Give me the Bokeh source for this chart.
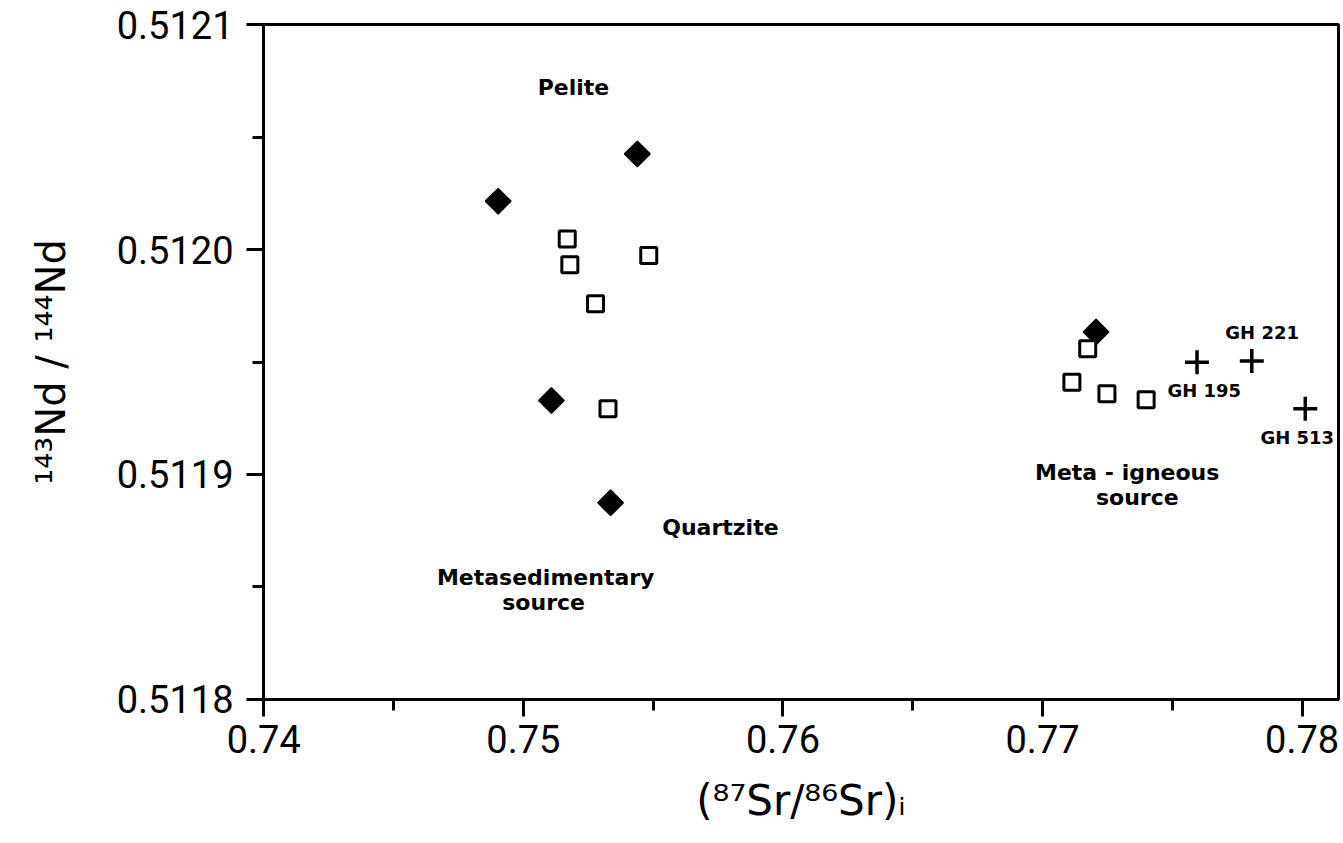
import numpy as np
from bokeh.plotting import figure
from bokeh.models import SingleIntervalTicker, PrintfTickFormatter, Range1d
from bokeh.embed import file_html
from bokeh.resources import INLINE
from bokeh.core.properties import value

# Filled diamonds (pelite / quartzite samples and one meta-igneous)
filled_x = [0.75439, 0.74903, 0.75108, 0.75336, 0.77206]
filled_y = [0.5120425, 0.5120215, 0.5119329, 0.5118874, 0.5119633]

# Open squares
open_x = [0.75169, 0.75179, 0.75483, 0.75278, 0.75326, 0.77174, 0.77113, 0.77248, 0.77399]
open_y = [0.5120047, 0.5119932, 0.5119973, 0.5119759, 0.5119292, 0.5119559, 0.5119410, 0.5119359, 0.5119332]

# Crosses (GH samples)
cross_x = [0.77595, 0.77806, 0.78012]
cross_y = [0.5119499, 0.5119504, 0.5119292]

# Annotation labels
big_labels = ["Pelite", "Quartzite", "Metasedimentary", "source", "Meta - igneous", "source"]
big_label_x = [0.75193, 0.75759, 0.75086, 0.75078, 0.77326, 0.77365]
big_label_y = [0.5120720, 0.5118764, 0.5118542, 0.5118431, 0.5119009, 0.5118898]

gh_labels = ["GH 221", "GH 195", "GH 513"]
gh_label_x = [0.77846, 0.77623, 0.77981]
gh_label_y = [0.5119631, 0.5119373, 0.5119164]

p = figure(width=1341, height=839, output_backend="svg", toolbar_location=None,
           x_range=Range1d(0.73999, 0.7814), y_range=Range1d(0.51179999, 0.51210001),
           min_border_left=263, min_border_right=3, min_border_top=24, min_border_bottom=140)

p.xgrid.visible = False
p.ygrid.visible = False
p.outline_line_color = "black"
p.outline_line_width = 3
p.outline_line_alpha = 1.0

p.xaxis.ticker = SingleIntervalTicker(interval=0.01, num_minor_ticks=2)
p.yaxis.ticker = SingleIntervalTicker(interval=0.0001, num_minor_ticks=2)
p.xaxis.formatter = PrintfTickFormatter(format="%.2f")
p.yaxis.formatter = PrintfTickFormatter(format="%.4f")

for ax in (p.xaxis[0], p.yaxis[0]):
    ax.axis_line_color = "black"
    ax.axis_line_width = 3
    ax.major_tick_line_width = 3
    ax.minor_tick_line_width = 3
    ax.major_tick_line_color = "black"
    ax.minor_tick_line_color = "black"
    ax.major_tick_in = 0
    ax.minor_tick_in = 0
    ax.major_tick_out = 17
    ax.minor_tick_out = 11
    ax.major_label_text_font = "Roboto"
    ax.major_label_text_font_size = "38px"
    ax.major_label_text_color = "black"
    ax.axis_label_text_font = "DejaVu Sans"
    ax.axis_label_text_font_size = "40px"
    ax.axis_label_text_font_style = "normal"
    ax.axis_label_text_color = "black"

p.xaxis.major_label_standoff = 8
p.yaxis.major_label_standoff = 13
p.xaxis.axis_label = "(\u2078\u2077Sr/\u2078\u2076Sr)\u1d62"
p.yaxis.axis_label = "\u00b9\u2074\u00b3Nd / \u00b9\u2074\u2074Nd"
p.xaxis.axis_label_text_font_size = "42px"
p.xaxis.axis_label_standoff = 20
p.yaxis.axis_label_standoff = 40

p.scatter(filled_x, filled_y, marker="square", size=18, angle=np.pi / 4,
          fill_color="black", line_color="black", line_width=1.5)
p.scatter(open_x, open_y, marker="square", size=16, fill_color="white",
          line_color="black", line_width=3)
p.scatter(cross_x, cross_y, marker="cross", size=24, line_color="black", line_width=3.5)

p.text(x=big_label_x, y=big_label_y, text=big_labels, text_font=value("DejaVu Sans"),
       text_font_size="22px", text_font_style="bold", text_align="center",
       text_baseline="middle", text_color="black")
p.text(x=gh_label_x, y=gh_label_y, text=gh_labels, text_font=value("DejaVu Sans"),
       text_font_size="18px", text_font_style="bold", text_align="center",
       text_baseline="middle", text_color="black")

open("out.html", "w").write(file_html(p, INLINE))
